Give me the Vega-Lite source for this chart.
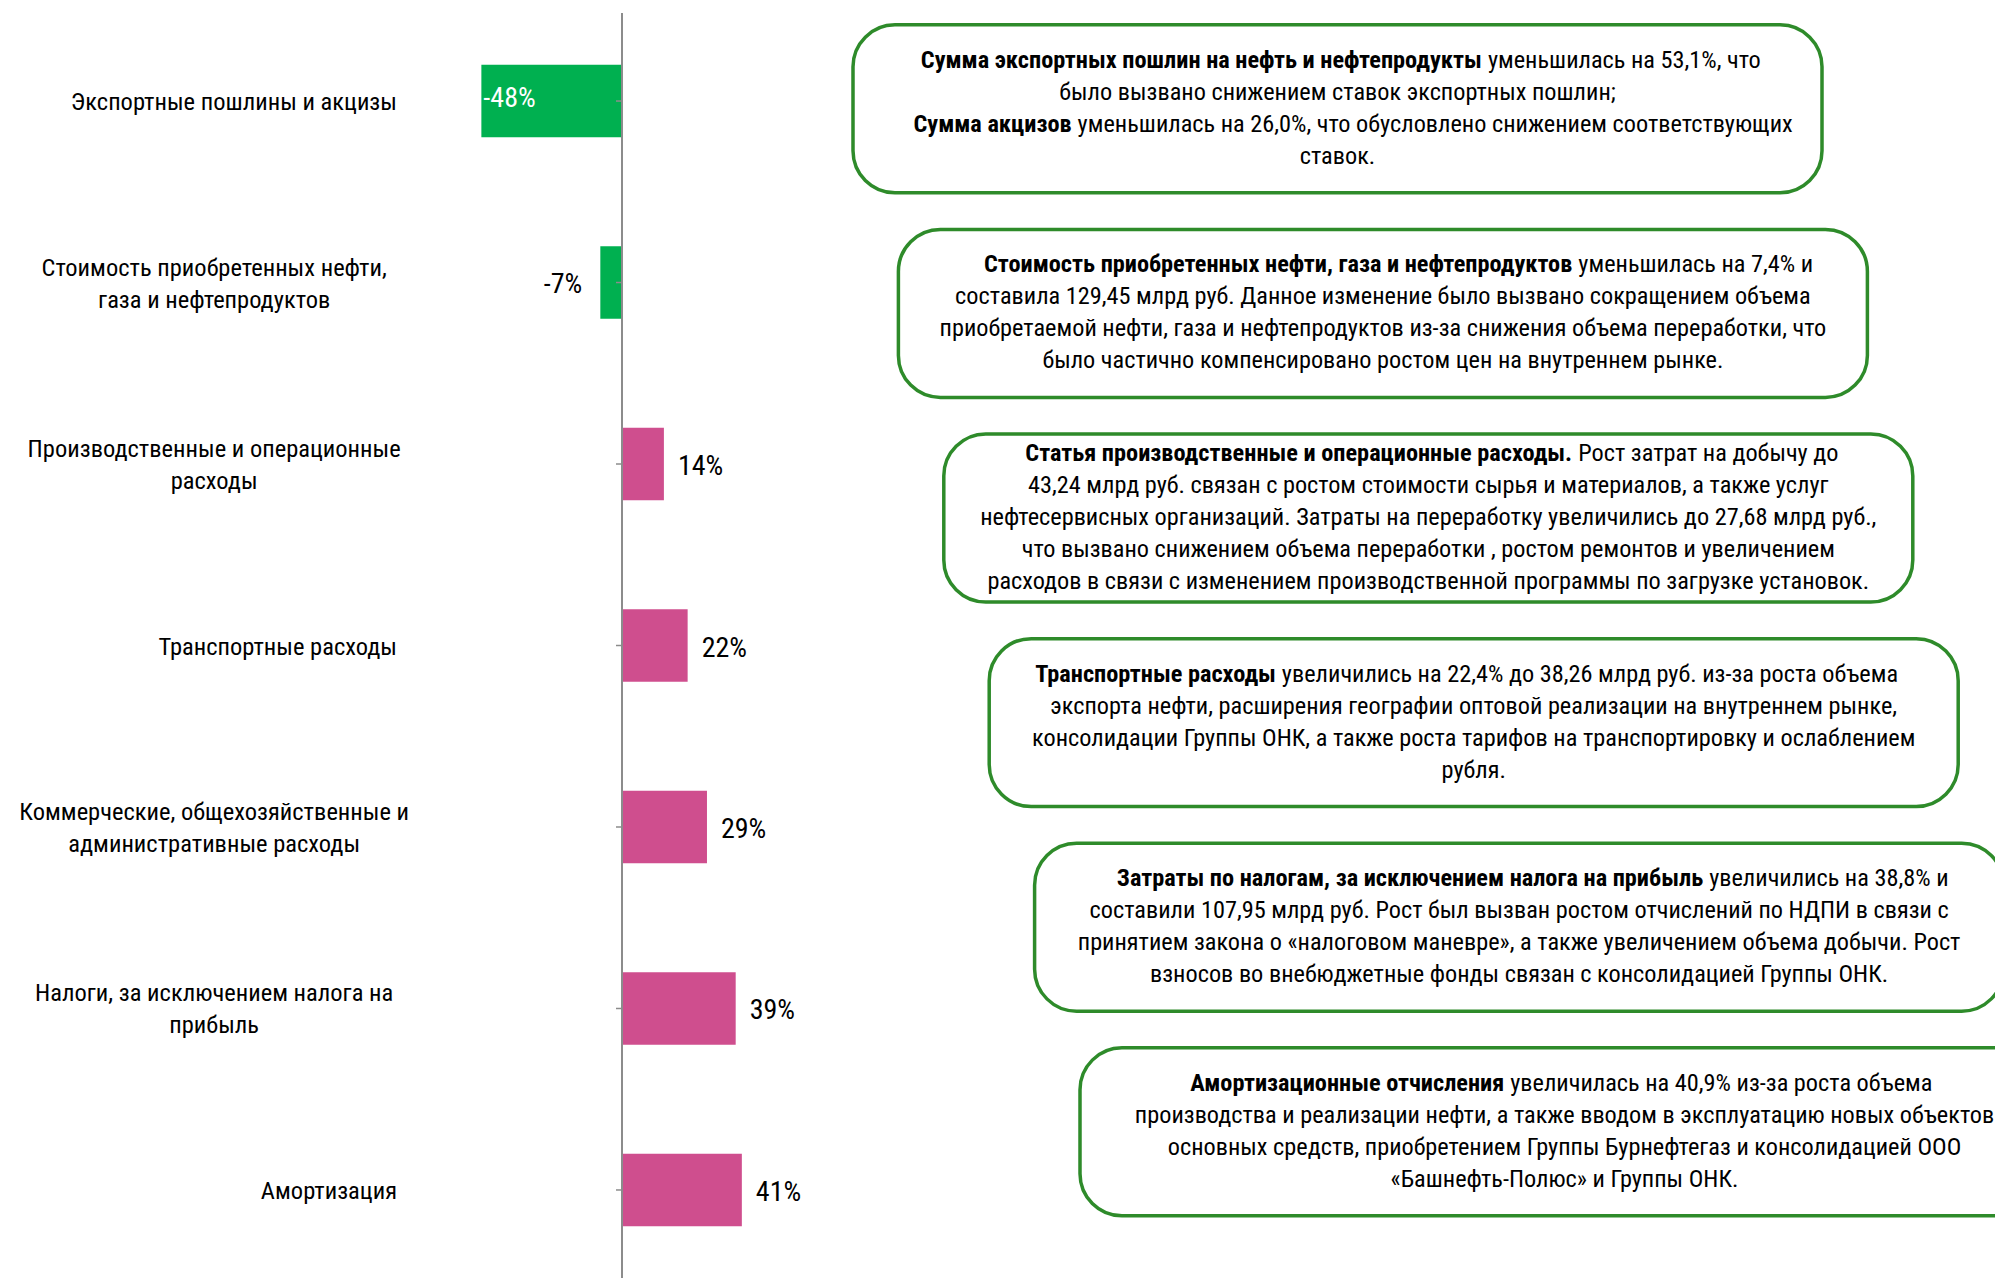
{
  "$schema": "https://vega.github.io/schema/vega-lite/v6.json",
  "autosize": "none",
  "padding": {"left": 0, "top": 13, "right": 0, "bottom": 0},
  "width": 1995,
  "height": 1265,
  "background": "#ffffff",
  "config": {
    "view": {"stroke": null},
    "font": "Roboto Condensed, Liberation Sans, sans-serif",
    "locale": {"number": {"decimal": ",", "thousands": " ", "grouping": [3], "currency": ["", " ₽"], "minus": "-"}}
  },
  "datasets": {
    "bars": [
      {"category": "Экспортные пошлины и акцизы", "change": -0.48},
      {"category": "Стоимость приобретенных нефти,\nгаза и нефтепродуктов", "change": -0.074},
      {"category": "Производственные и операционные\nрасходы", "change": 0.143},
      {"category": "Транспортные расходы", "change": 0.224},
      {"category": "Коммерческие, общехозяйственные и\nадминистративные расходы", "change": 0.29},
      {"category": "Налоги, за исключением налога на\nприбыль", "change": 0.388},
      {"category": "Амортизация", "change": 0.409}
    ],
    "notes": [
      {"box": 1, "line": 0, "bold": "Сумма экспортных пошлин на нефть и нефтепродукты", "text": "уменьшилась на 53,1%, что"},
      {"box": 1, "line": 1, "bold": "", "text": "было вызвано снижением ставок экспортных пошлин;"},
      {"box": 1, "line": 2, "bold": "Сумма акцизов", "text": "уменьшилась на 26,0%, что обусловлено снижением соответствующих"},
      {"box": 1, "line": 3, "bold": "", "text": "ставок."},
      {"box": 2, "line": 0, "bold": "Стоимость приобретенных нефти, газа и нефтепродуктов", "text": "уменьшилась на 7,4% и"},
      {"box": 2, "line": 1, "bold": "", "text": "составила 129,45 млрд руб. Данное изменение было вызвано сокращением объема"},
      {"box": 2, "line": 2, "bold": "", "text": "приобретаемой нефти, газа и нефтепродуктов из-за снижения объема переработки, что"},
      {"box": 2, "line": 3, "bold": "", "text": "было частично компенсировано ростом цен на внутреннем рынке."},
      {"box": 3, "line": 0, "bold": "Статья производственные и операционные расходы.", "text": "Рост затрат на добычу до"},
      {"box": 3, "line": 1, "bold": "", "text": "43,24 млрд руб. связан с ростом стоимости сырья и материалов, а также услуг"},
      {"box": 3, "line": 2, "bold": "", "text": "нефтесервисных организаций. Затраты на переработку увеличились до 27,68 млрд руб.,"},
      {"box": 3, "line": 3, "bold": "", "text": "что вызвано снижением объема переработки , ростом ремонтов и увеличением"},
      {"box": 3, "line": 4, "bold": "", "text": "расходов в связи с изменением производственной программы по загрузке установок."},
      {"box": 4, "line": 0, "bold": "Транспортные расходы", "text": "увеличились на 22,4% до 38,26 млрд руб. из-за роста объема"},
      {"box": 4, "line": 1, "bold": "", "text": "экспорта нефти, расширения географии оптовой реализации на внутреннем рынке,"},
      {"box": 4, "line": 2, "bold": "", "text": "консолидации Группы ОНК, а также роста тарифов на транспортировку и ослаблением"},
      {"box": 4, "line": 3, "bold": "", "text": "рубля."},
      {"box": 5, "line": 0, "bold": "Затраты по налогам, за исключением налога на прибыль", "text": "увеличились на 38,8% и"},
      {"box": 5, "line": 1, "bold": "", "text": "составили 107,95 млрд руб. Рост был вызван ростом отчислений по НДПИ в связи с"},
      {"box": 5, "line": 2, "bold": "", "text": "принятием закона о «налоговом маневре», а также увеличением объема добычи. Рост"},
      {"box": 5, "line": 3, "bold": "", "text": "взносов во внебюджетные фонды связан с консолидацией Группы ОНК."},
      {"box": 6, "line": 0, "bold": "Амортизационные отчисления", "text": "увеличилась на 40,9% из-за роста объема"},
      {"box": 6, "line": 1, "bold": "", "text": "производства и реализации нефти, а также вводом в эксплуатацию новых объектов"},
      {"box": 6, "line": 2, "bold": "", "text": "основных средств, приобретением Группы Бурнефтегаз и консолидацией ООО"},
      {"box": 6, "line": 3, "bold": "", "text": "«Башнефть-Полюс» и Группы ОНК."}
    ]
  },
  "resolve": {"scale": {"x": "independent", "y": "independent"}},
  "layer": [
    {
      "data": {"name": "bars"},
      "encoding": {
        "y": {
          "field": "category",
          "type": "nominal",
          "sort": null,
          "scale": {"paddingInner": 0.6, "paddingOuter": 0.285},
          "axis": null
        }
      },
      "layer": [
        {
          "mark": {"type": "bar"},
          "encoding": {
            "x": {"field": "change", "type": "quantitative", "scale": {"domain": [-2.1229, 4.686], "nice": false, "zero": false}, "axis": null},
            "x2": {"datum": 0},
            "color": {"condition": {"test": "datum.change < 0", "value": "#00b050"}, "value": "#cf4e8e"}
          }
        },
        {
          "mark": {"type": "rule", "color": "#8c8c8c", "strokeWidth": 1.5},
          "encoding": {
            "x": {"datum": -0.0205, "type": "quantitative"},
            "x2": {"datum": 0}
          }
        },
        {
          "data": {"values": [{"zero": 0}]},
          "mark": {"type": "rule", "color": "#8c8c8c", "strokeWidth": 2},
          "encoding": {
            "x": {"field": "zero", "type": "quantitative"},
            "y": null
          }
        },
        {
          "transform": [{"filter": "datum.change > 0"}],
          "mark": {"type": "text", "align": "left", "baseline": "middle", "dx": 14, "dy": 3, "fontSize": 28, "color": "#000000"},
          "encoding": {
            "x": {"field": "change", "type": "quantitative"},
            "text": {"field": "change", "type": "quantitative", "format": ".0%"}
          }
        },
        {
          "transform": [{"filter": "datum.change < 0 && datum.change > -0.2"}],
          "mark": {"type": "text", "align": "right", "baseline": "middle", "dx": -18, "dy": 2, "fontSize": 28, "color": "#000000"},
          "encoding": {
            "x": {"field": "change", "type": "quantitative"},
            "text": {"field": "change", "type": "quantitative", "format": ".0%"}
          }
        },
        {
          "transform": [{"filter": "datum.change <= -0.2"}],
          "mark": {"type": "text", "align": "left", "baseline": "middle", "dx": 2, "dy": -2, "fontSize": 28, "color": "#ffffff"},
          "encoding": {
            "x": {"field": "change", "type": "quantitative"},
            "text": {"field": "change", "type": "quantitative", "format": ".0%"}
          }
        },
        {
          "transform": [{"filter": "indexof(datum.category, '\\n') < 0"}],
          "mark": {"type": "text", "align": "right", "baseline": "middle", "dy": 2, "fontSize": 24.5, "color": "#000000"},
          "encoding": {
            "x": {"datum": -0.768, "type": "quantitative"},
            "text": {"field": "category", "type": "nominal"}
          }
        },
        {
          "transform": [{"filter": "indexof(datum.category, '\\n') >= 0"}],
          "mark": {"type": "text", "align": "center", "baseline": "middle", "dy": -14, "fontSize": 24.5, "lineBreak": "\n", "lineHeight": 32, "color": "#000000"},
          "encoding": {
            "x": {"datum": -1.392, "type": "quantitative"},
            "text": {"field": "category", "type": "nominal"}
          }
        }
      ]
    },
    {
      "data": {"name": "notes"},
      "transform": [{"joinaggregate": [{"op": "count", "as": "n"}], "groupby": ["box"]}],
      "encoding": {
        "x": {"field": "box", "type": "ordinal", "scale": {"type": "point", "padding": 0, "range": [1337.5, 1564.5]}, "axis": null},
        "y": {"field": "box", "type": "ordinal", "scale": {"type": "band", "paddingInner": 0.179, "paddingOuter": 0.181, "align": 0.16}, "axis": null}
      },
      "layer": [
        {
          "transform": [{"filter": "datum.line == 0"}],
          "mark": {"type": "rect", "width": 969, "cornerRadius": 42, "fill": "#ffffff", "stroke": "#2e8b2a", "strokeWidth": 3.5}
        },
        {
          "transform": [{"filter": "datum.bold != ''"}],
          "mark": {
            "type": "text", "align": "right", "baseline": "middle", "fontSize": 24.3, "fontWeight": "bold", "color": "#000000",
            "dx": {"expr": "(length(datum.bold)*11.75 - length(datum.text)*10.77 - 6)/2"},
            "dy": {"expr": "(datum.line - (datum.n - 1)/2)*32"}
          },
          "encoding": {"text": {"field": "bold", "type": "nominal"}}
        },
        {
          "mark": {
            "type": "text", "baseline": "middle", "fontSize": 24.3, "color": "#000000",
            "align": {"expr": "datum.bold == '' ? 'center' : 'left'"},
            "dx": {"expr": "datum.bold == '' ? 0 : (length(datum.bold)*11.75 - length(datum.text)*10.77 + 6)/2"},
            "dy": {"expr": "(datum.line - (datum.n - 1)/2)*32"}
          },
          "encoding": {"text": {"field": "text", "type": "nominal"}}
        }
      ]
    }
  ]
}
